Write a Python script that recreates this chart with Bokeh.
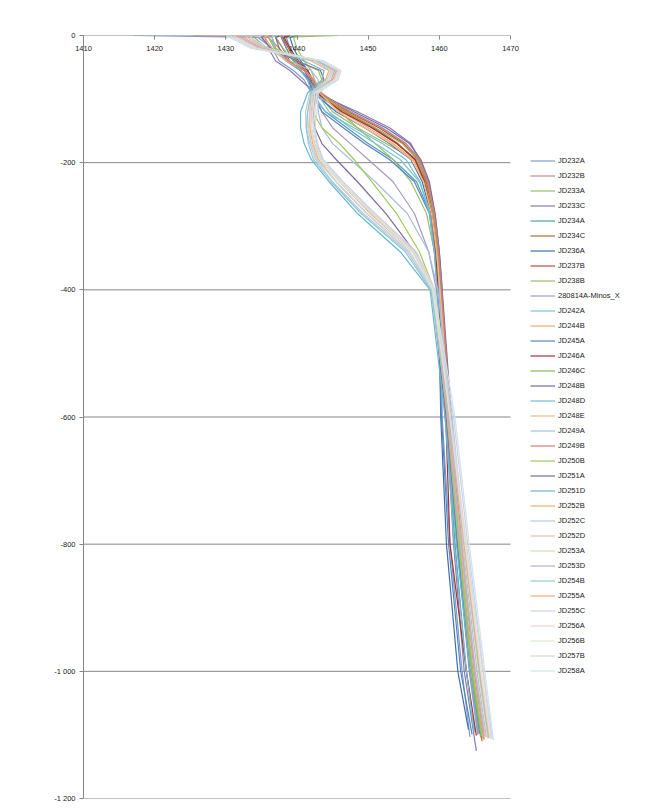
from bokeh.plotting import figure
from bokeh.models import Legend, LegendItem, FixedTicker, Range1d
from bokeh.embed import file_html
from bokeh.resources import INLINE

series_names = ["JD232A", "JD232B", "JD233A", "JD233C", "JD234A", "JD234C", "JD236A",
                "JD237B", "JD238B", "280814A-Minos_X", "JD242A", "JD244B", "JD245A",
                "JD246A", "JD246C", "JD248B", "JD248D", "JD248E", "JD249A", "JD249B",
                "JD250B", "JD251A", "JD251D", "JD252B", "JD252C", "JD252D", "JD253A",
                "JD253D", "JD254B", "JD255A", "JD255C", "JD256A", "JD256B", "JD257B",
                "JD258A"]

# depth (m) at which each velocity sample was read; last point of each series uses end_depths
depths = [0, -3, -20, -40, -55, -70, -90, -120, -145, -170, -195, -230, -280, -340, -400,
          -600, -800, -1000]

end_depths = [-1103, -1098, -1105, -1125, -1095, -1110, -1092, -1100, -1097, -1100,
              -1102, -1106, -1099, -1101, -1104, -1102, -1096, -1108, -1103, -1107,
              -1100, -1098, -1095, -1102, -1104, -1103, -1106, -1100, -1105, -1104,
              -1106, -1105, -1106, -1107, -1108]

# sound velocity (m/s)
velocities = [
    [1417.0, 1434.5, 1436.5, 1437.5, 1439.5, 1441.0, 1442.0, 1447.5, 1452.0, 1455.3, 1457.3, 1458.3, 1459.2, 1459.8, 1460.2, 1460.4, 1461.5, 1463.2, 1464.3],
    [1425.5, 1436.0, 1437.5, 1438.5, 1440.5, 1441.5, 1442.5, 1446.5, 1450.5, 1454.0, 1456.8, 1458.0, 1459.0, 1459.7, 1460.1, 1461.3, 1462.7, 1464.5, 1465.7],
    [1445.7, 1438.0, 1438.5, 1439.5, 1441.0, 1442.0, 1443.0, 1445.0, 1448.5, 1452.5, 1456.5, 1458.2, 1459.1, 1459.8, 1460.3, 1461.6, 1463.0, 1464.8, 1466.0],
    [1436.5, 1435.5, 1436.0, 1437.0, 1439.0, 1440.5, 1442.5, 1448.5, 1453.0, 1456.0, 1457.2, 1458.5, 1459.4, 1460.0, 1460.4, 1461.0, 1462.0, 1463.5, 1465.2],
    [1439.0, 1438.5, 1439.0, 1440.0, 1441.5, 1442.0, 1442.0, 1444.0, 1447.0, 1450.0, 1453.5, 1456.8, 1458.7, 1459.4, 1459.8, 1460.9, 1462.2, 1463.8, 1465.0],
    [1438.0, 1437.0, 1438.0, 1439.0, 1440.5, 1441.5, 1442.5, 1446.8, 1450.8, 1454.2, 1456.6, 1458.0, 1459.0, 1459.7, 1460.2, 1461.5, 1462.9, 1464.7, 1466.0],
    [1440.0, 1439.0, 1439.5, 1440.5, 1441.5, 1442.0, 1442.3, 1445.5, 1449.5, 1453.0, 1456.0, 1457.6, 1458.8, 1459.5, 1459.9, 1460.2, 1461.0, 1462.6, 1464.1],
    [1438.5, 1438.0, 1438.8, 1439.8, 1441.2, 1442.2, 1443.0, 1447.2, 1451.5, 1455.0, 1457.0, 1458.2, 1459.2, 1459.9, 1460.3, 1461.6, 1463.0, 1464.8, 1465.8],
    [1440.5, 1439.5, 1440.0, 1441.0, 1442.0, 1442.5, 1442.8, 1446.0, 1448.5, 1451.0, 1453.5, 1456.0, 1458.2, 1459.3, 1459.9, 1461.2, 1462.6, 1464.3, 1465.4],
    [1436.0, 1436.5, 1437.0, 1438.5, 1440.5, 1441.8, 1442.5, 1443.5, 1445.0, 1447.5, 1450.0, 1453.5, 1456.5, 1458.5, 1459.6, 1461.0, 1462.5, 1464.2, 1465.4],
    [1437.0, 1436.5, 1437.0, 1438.5, 1440.5, 1441.8, 1442.8, 1444.5, 1447.5, 1451.0, 1454.5, 1457.2, 1458.8, 1459.5, 1459.9, 1461.2, 1462.7, 1464.6, 1465.9],
    [1436.0, 1435.5, 1436.5, 1438.5, 1441.0, 1442.5, 1443.5, 1446.2, 1450.0, 1453.5, 1456.3, 1457.9, 1459.0, 1459.7, 1460.1, 1461.4, 1462.9, 1464.8, 1466.1],
    [1438.0, 1437.8, 1438.5, 1439.5, 1441.0, 1441.8, 1442.0, 1443.5, 1446.5, 1449.5, 1453.0, 1456.5, 1458.6, 1459.3, 1459.7, 1460.3, 1461.3, 1463.0, 1464.6],
    [1439.0, 1438.2, 1439.0, 1440.2, 1441.5, 1442.3, 1442.8, 1446.3, 1450.5, 1454.0, 1456.6, 1457.9, 1458.9, 1459.5, 1459.8, 1460.9, 1461.5, 1463.8, 1465.2],
    [1437.0, 1437.0, 1438.0, 1439.5, 1441.0, 1442.2, 1443.0, 1447.0, 1451.0, 1454.8, 1457.0, 1458.3, 1459.2, 1459.8, 1460.2, 1461.5, 1462.9, 1464.6, 1465.8],
    [1437.5, 1437.0, 1437.5, 1438.8, 1440.5, 1441.8, 1443.0, 1448.0, 1452.5, 1455.8, 1457.4, 1458.6, 1459.4, 1460.0, 1460.4, 1461.7, 1463.1, 1464.9, 1466.1],
    [1436.0, 1436.0, 1436.8, 1438.5, 1440.5, 1441.5, 1442.0, 1444.0, 1448.0, 1452.0, 1455.3, 1457.3, 1458.6, 1459.3, 1459.7, 1460.8, 1462.1, 1463.8, 1464.9],
    [1435.0, 1435.2, 1436.2, 1438.5, 1441.0, 1442.5, 1443.2, 1445.8, 1449.5, 1453.2, 1456.1, 1457.8, 1458.9, 1459.6, 1460.1, 1461.4, 1462.9, 1464.8, 1466.2],
    [1435.0, 1435.0, 1436.2, 1439.0, 1442.0, 1443.0, 1442.8, 1443.0, 1443.5, 1445.0, 1447.5, 1451.0, 1455.5, 1458.5, 1459.8, 1461.6, 1463.3, 1465.3, 1466.6],
    [1436.5, 1436.0, 1437.0, 1438.8, 1441.0, 1442.3, 1443.3, 1447.5, 1451.8, 1455.3, 1457.2, 1458.4, 1459.3, 1459.9, 1460.3, 1461.6, 1463.1, 1465.0, 1466.3],
    [1436.0, 1436.0, 1437.0, 1440.0, 1443.0, 1443.5, 1442.5, 1442.2, 1443.5, 1446.0, 1448.0, 1450.5, 1454.0, 1457.2, 1459.3, 1461.1, 1462.8, 1464.7, 1466.0],
    [1435.5, 1435.0, 1436.3, 1440.0, 1443.3, 1443.8, 1442.5, 1442.3, 1442.5, 1443.5, 1445.5, 1448.5, 1452.5, 1456.5, 1459.0, 1460.9, 1462.5, 1464.3, 1465.6],
    [1434.0, 1434.0, 1435.8, 1441.0, 1443.8, 1443.5, 1441.5, 1440.5, 1440.5, 1441.0, 1442.0, 1444.5, 1448.5, 1454.5, 1458.7, 1460.8, 1462.4, 1464.3, 1465.5],
    [1433.0, 1433.5, 1435.5, 1442.0, 1444.5, 1444.0, 1442.0, 1441.8, 1441.8, 1442.2, 1443.0, 1445.5, 1449.8, 1455.8, 1459.0, 1461.1, 1463.0, 1465.0, 1466.3],
    [1432.5, 1433.0, 1435.2, 1442.5, 1444.8, 1444.2, 1441.8, 1441.2, 1441.3, 1441.8, 1442.6, 1445.0, 1449.3, 1455.5, 1458.9, 1461.8, 1463.6, 1465.8, 1467.2],
    [1433.0, 1433.0, 1435.5, 1442.8, 1445.0, 1444.5, 1442.3, 1442.0, 1442.0, 1442.5, 1443.3, 1446.0, 1450.5, 1456.3, 1459.2, 1461.2, 1463.1, 1465.1, 1466.5],
    [1433.5, 1433.5, 1436.0, 1443.0, 1445.2, 1444.5, 1442.0, 1441.5, 1441.5, 1442.0, 1442.8, 1445.5, 1449.8, 1455.8, 1459.0, 1461.4, 1463.4, 1465.5, 1466.8],
    [1432.0, 1432.5, 1435.0, 1443.0, 1445.3, 1444.8, 1442.5, 1442.3, 1442.3, 1442.8, 1443.6, 1446.3, 1450.8, 1456.6, 1459.3, 1461.2, 1463.1, 1465.0, 1466.3],
    [1432.0, 1432.0, 1434.8, 1442.8, 1445.5, 1445.0, 1442.0, 1441.5, 1441.3, 1441.6, 1442.3, 1444.8, 1449.0, 1455.2, 1458.8, 1461.3, 1463.5, 1465.6, 1466.9],
    [1431.5, 1432.0, 1434.8, 1443.3, 1445.6, 1445.0, 1442.5, 1442.2, 1442.0, 1442.4, 1443.2, 1446.0, 1450.3, 1456.2, 1459.2, 1461.4, 1463.5, 1465.7, 1467.0],
    [1431.0, 1431.5, 1434.5, 1443.2, 1445.8, 1445.2, 1442.2, 1441.8, 1441.6, 1442.0, 1442.8, 1445.5, 1449.8, 1455.8, 1459.0, 1462.0, 1464.0, 1466.2, 1467.4],
    [1431.0, 1431.5, 1434.3, 1443.5, 1445.8, 1445.3, 1442.8, 1442.5, 1442.3, 1442.7, 1443.5, 1446.3, 1450.8, 1456.5, 1459.3, 1461.5, 1463.6, 1465.8, 1467.1],
    [1430.5, 1431.0, 1434.0, 1443.4, 1446.0, 1445.5, 1442.5, 1442.2, 1442.0, 1442.4, 1443.2, 1446.0, 1450.5, 1456.2, 1459.1, 1461.5, 1463.7, 1465.9, 1467.2],
    [1430.5, 1431.0, 1433.8, 1443.6, 1446.0, 1445.6, 1443.0, 1442.8, 1442.5, 1442.9, 1443.7, 1446.5, 1451.0, 1456.8, 1459.4, 1461.6, 1463.8, 1466.1, 1467.4],
    [1430.0, 1430.5, 1433.5, 1443.8, 1446.2, 1445.8, 1442.8, 1442.5, 1442.3, 1442.7, 1443.4, 1446.2, 1450.6, 1456.4, 1459.2, 1462.2, 1464.2, 1466.4, 1467.6],
]

x_ticks = [1410, 1420, 1430, 1440, 1450, 1460, 1470]
y_ticks = [0, -200, -400, -600, -800, -1000, -1200]
y_tick_labels = ["0", "-200", "-400", "-600", "-800", "-1 000", "-1 200"]

colors = ["#7F9FCB", "#C98A88", "#9EBB6E", "#8B7BAA", "#4C9FAF", "#B26B38", "#3F6FB0",
          "#C04A47", "#9CBF6A", "#A898C0", "#7CC4D6", "#EFA875", "#5B82BE", "#A8302E",
          "#8DB653", "#7D68A6", "#6FC0D3", "#F7B98A", "#A9BEDC", "#D67C7A", "#9BCB5A",
          "#7B6BA0", "#68B8CC", "#F9A870", "#B9C8E0", "#E8BCBB", "#CFE0B5", "#B9B0CC",
          "#92C8D6", "#F5A87A", "#C8D2E6", "#F0D0D0", "#DDE9CE", "#D8D6E2", "#CFE3EA"]

# frame is 564 px wide; the value axis spans 1410..1470 over its first 427 px,
# the remaining space on the right holds the legend
X_END = x_ticks[0] + (x_ticks[-1] - x_ticks[0]) * 564.0 / 427.0

p = figure(width=647, height=812, x_range=Range1d(x_ticks[0], X_END), y_range=Range1d(y_ticks[-1], y_ticks[0]),
           output_backend="svg", toolbar_location=None, x_axis_location="above",
           min_border_left=83, min_border_right=0, min_border_top=35, min_border_bottom=14)
p.outline_line_color = None
p.background_fill_color = "white"
p.border_fill_color = "white"

FONT = "Liberation Sans"
AXIS_GRAY = "#868686"

p.xaxis.ticker = FixedTicker(ticks=x_ticks)
p.xaxis.axis_line_color = None
p.xaxis.major_tick_line_color = AXIS_GRAY
p.xaxis.major_tick_in = 4
p.xaxis.major_tick_out = 0
p.xaxis.minor_tick_line_color = None
p.xaxis.major_label_standoff = -15
p.xaxis.major_label_text_font = FONT
p.xaxis.major_label_text_font_size = "7.5px"
p.xaxis.major_label_text_color = "#222222"

p.yaxis.ticker = FixedTicker(ticks=y_ticks)
p.yaxis.major_label_overrides = {t: l for t, l in zip(y_ticks, y_tick_labels)}
p.yaxis.axis_line_color = AXIS_GRAY
p.yaxis.major_tick_line_color = AXIS_GRAY
p.yaxis.major_tick_in = 0
p.yaxis.major_tick_out = 4
p.yaxis.minor_tick_line_color = None
p.yaxis.major_label_standoff = 4
p.yaxis.major_label_text_font = FONT
p.yaxis.major_label_text_font_size = "7.5px"
p.yaxis.major_label_text_color = "#222222"

p.xgrid.grid_line_color = None
p.ygrid.grid_line_color = None

# horizontal gridlines and the horizontal axis line, limited to the value-axis span
p.segment(x0=[x_ticks[0]] * len(y_ticks), x1=[x_ticks[-1]] * len(y_ticks),
          y0=y_ticks, y1=y_ticks, line_color=AXIS_GRAY, line_width=1)

items = []
for name, vel, end_d, col in zip(series_names, velocities, end_depths, colors):
    ys = depths + [end_d]
    r = p.line(vel, ys, line_color=col, line_width=1.2)
    items.append(LegendItem(label=name, renderers=[r]))

legend = Legend(items=items, location=(447, 120), orientation="vertical",
                glyph_width=25, glyph_height=15, label_height=15, label_standoff=3,
                spacing=0, padding=0, margin=0,
                label_text_font=FONT, label_text_font_size="7.5px",
                label_text_color="#222222",
                border_line_color=None, background_fill_alpha=0)
p.add_layout(legend, "center")

open("out.html", "w").write(file_html(p, INLINE))
